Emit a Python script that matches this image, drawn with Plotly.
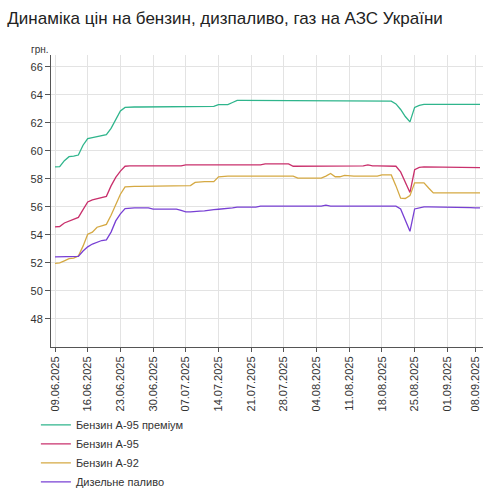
import plotly.graph_objects as go
import pandas as pd

# daily dates, 07.09 has no data in the source
dates = [d.strftime('%d.%m.%Y') for d in pd.date_range('2025-06-09', '2025-09-09')
         if d.strftime('%d.%m') != '07.09']

tick_dates = ['09.06.2025', '16.06.2025', '23.06.2025', '30.06.2025', '07.07.2025',
              '14.07.2025', '21.07.2025', '28.07.2025', '04.08.2025', '11.08.2025',
              '18.08.2025', '25.08.2025', '01.09.2025', '08.09.2025']

a95_premium = [58.85, 58.87, 59.3, 59.58, 59.62, 59.7, 60.4, 60.88, 60.95, 61.0,
               61.08, 61.15, 61.6, 62.2, 62.85, 63.1, 63.13, 63.13, 63.13, 63.13,
               63.13, 63.13, 63.13, 63.13, 63.13, 63.13, 63.13, 63.13, 63.18, 63.18,
               63.18, 63.18, 63.18, 63.18, 63.18, 63.3, 63.3, 63.3, 63.45, 63.6,
               63.6, 63.6, 63.6, 63.6, 63.6, 63.6, 63.6, 63.6, 63.6, 63.6,
               63.6, 63.55, 63.55, 63.55, 63.55, 63.55, 63.55, 63.6, 63.6, 63.6,
               63.6, 63.6, 63.55, 63.55, 63.55, 63.55, 63.55, 63.55, 63.55, 63.55,
               63.55, 63.55, 63.55, 63.35, 62.95, 62.45, 62.07, 63.1, 63.25, 63.31,
               63.31, 63.31, 63.31, 63.31, 63.31, 63.31, 63.31, 63.31, 63.31, 63.31,
               63.31, 63.31]

a95 = [54.57, 54.6, 54.85, 55.0, 55.1, 55.25, 55.8, 56.35, 56.5, 56.6,
       56.7, 56.75, 57.5, 58.1, 58.55, 58.9, 58.93, 58.93, 58.93, 58.93,
       58.93, 58.93, 58.93, 58.93, 58.93, 58.93, 58.93, 58.93, 59.0, 59.0,
       59.0, 59.0, 59.0, 59.0, 59.0, 59.0, 59.0, 59.0, 59.0, 59.0,
       59.0, 59.0, 59.0, 59.0, 59.0, 59.07, 59.07, 59.07, 59.07, 59.07,
       59.07, 58.9, 58.9, 58.9, 58.9, 58.9, 58.9, 58.93, 58.93, 58.93,
       58.93, 58.93, 58.93, 58.93, 58.93, 58.93, 58.93, 59.0, 58.93, 58.93,
       58.93, 58.93, 58.93, 58.9, 58.5, 57.8, 57.03, 58.65, 58.82, 58.85,
       58.85, 58.85, 58.85, 58.85, 58.85, 58.85, 58.8, 58.82, 58.85, 58.8,
       58.8, 58.8]

a92 = [51.97, 52.0, 52.15, 52.3, 52.35, 52.5, 53.2, 54.05, 54.2, 54.55,
       54.65, 54.75, 55.4, 56.2, 56.9, 57.43, 57.47, 57.47, 57.47, 57.47,
       57.47, 57.47, 57.47, 57.47, 57.47, 57.52, 57.52, 57.52, 57.52, 57.52,
       57.75, 57.8, 57.8, 57.8, 57.8, 58.15, 58.19, 58.19, 58.19, 58.19,
       58.19, 58.19, 58.19, 58.19, 58.19, 58.19, 58.19, 58.19, 58.19, 58.19,
       58.19, 58.19, 58.05, 58.05, 58.05, 58.05, 58.05, 58.05, 58.2, 58.38,
       58.15, 58.15, 58.25, 58.2, 58.2, 58.2, 58.2, 58.2, 58.2, 58.2,
       58.28, 58.28, 58.28, 57.5, 56.62, 56.6, 56.8, 57.72, 57.72, 57.72,
       57.35, 57.0, 57.0, 57.0, 57.0, 57.0, 57.0, 57.0, 57.0, 57.0,
       57.0, 57.0]

diesel = [52.43, 52.43, 52.43, 52.45, 52.45, 52.47, 52.85, 53.15, 53.35, 53.5,
          53.6, 53.65, 54.2, 55.0, 55.5, 55.88, 55.93, 55.93, 55.93, 55.93,
          55.93, 55.84, 55.84, 55.84, 55.84, 55.84, 55.84, 55.75, 55.65, 55.65,
          55.7, 55.7, 55.72, 55.78, 55.8, 55.83, 55.85, 55.88, 55.93, 55.98,
          55.98, 55.98, 55.98, 55.98, 56.05, 56.05, 56.05, 56.05, 56.05, 56.05,
          56.05, 56.05, 56.05, 56.05, 56.05, 56.05, 56.05, 56.05, 56.12, 56.05,
          56.05, 56.05, 56.05, 56.05, 56.05, 56.05, 56.05, 56.05, 56.05, 56.05,
          56.05, 56.05, 56.05, 56.05, 55.85, 55.1, 54.26, 55.85, 55.95, 56.0,
          56.0, 56.0, 56.0, 56.0, 56.0, 55.98, 55.98, 55.95, 55.98, 55.95,
          55.93, 55.93]

series = [('Бензин А-95 преміум', a95_premium, '#2fb58c'),
          ('Бензин А-95', a95, '#c9306c'),
          ('Бензин А-92', a92, '#d5a943'),
          ('Дизельне паливо', diesel, '#7840d4')]

FONT = 'Liberation Sans, Arial, sans-serif'

fig = go.Figure()
for name, vals, color in series:
    fig.add_trace(go.Scatter(x=dates, y=vals, name=name, mode='lines',
                             line=dict(color=color, width=1.3)))

fig.update_layout(
    width=490, height=488,
    margin=dict(l=51, r=7, t=55, b=141, autoexpand=False),
    paper_bgcolor='white', plot_bgcolor='white',
    font=dict(family=FONT, size=11, color='#333'),
    title=dict(text='Динаміка цін на бензин, дизпаливо, газ на АЗС України',
               x=0.015, xanchor='left', y=0.962, yanchor='middle',
               font=dict(family=FONT, size=17, color='#222')),
    showlegend=True,
    legend=dict(orientation='v', x=-0.035, xanchor='left', y=-0.217, yanchor='top',
                font=dict(family=FONT, size=11, color='#333'),
                bgcolor='rgba(0,0,0,0)'),
    annotations=[dict(text='грн.', xref='paper', yref='paper', x=-0.052, y=0.993,
                      xanchor='left', yanchor='bottom', showarrow=False,
                      font=dict(family=FONT, size=10, color='#333'))],
)

fig.update_xaxes(type='category', categoryorder='array', categoryarray=dates,
                 range=[-0.86, 91.64], tickmode='array', tickvals=tick_dates,
                 ticktext=tick_dates, tickangle=-90, ticks='outside', ticklen=4,
                 tickcolor='#555', showline=True, linecolor='#555', linewidth=1,
                 showgrid=True, gridcolor='#e3e3e3', gridwidth=1, zeroline=False,
                 tickfont=dict(family=FONT, size=11, color='#333'))
fig.update_yaxes(range=[46, 66.84], tickmode='array',
                 tickvals=[48, 50, 52, 54, 56, 58, 60, 62, 64, 66],
                 ticks='outside', ticklen=5, tickcolor='#555',
                 showline=True, linecolor='#555', linewidth=1,
                 showgrid=True, gridcolor='#e3e3e3', gridwidth=1, zeroline=False,
                 tickfont=dict(family=FONT, size=11, color='#333'))

# the page's default body margin would push the figure 8px off the window
fig.write_html("out.html", config={'displayModeBar': False},
               post_script="document.body.style.margin='0';")
